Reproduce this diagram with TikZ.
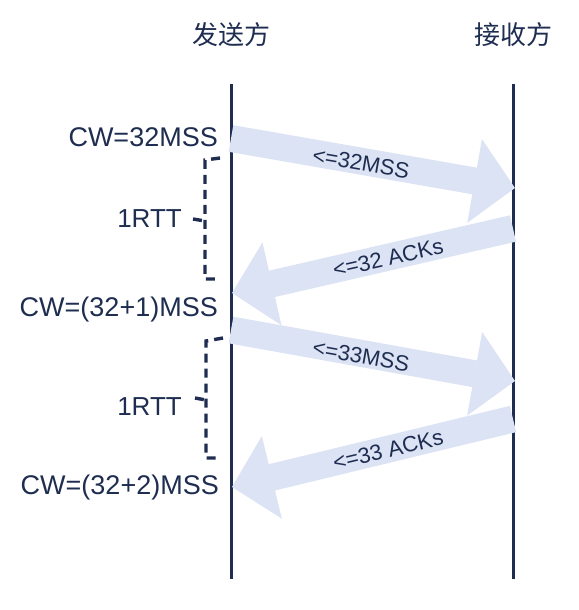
\documentclass[tikz,border=0pt]{standalone}
\usepackage{fontspec}
\setmainfont{Liberation Sans}
\newfontfamily\cjk{Noto Sans CJK SC}
\usetikzlibrary{calc}
\definecolor{navy}{HTML}{1E2D50}
\definecolor{arrowfill}{HTML}{DCE3F5}
\tikzset{
  lifeline/.style={draw=navy, line width=3pt},
  titlelabel/.style={text=navy, font=\cjk\fontsize{26}{30}\selectfont, inner sep=0pt},
  cwlabel/.style={text=navy, font=\fontsize{27}{32}\selectfont, anchor=east, inner sep=0pt},
  rttlabel/.style={text=navy, font=\fontsize{26}{31}\selectfont, anchor=east, inner sep=0pt},
  msglabel/.style={text=navy, font=\fontsize{22}{26}\selectfont, inner sep=0pt},
  bracket/.style={draw=navy, line width=3.4pt, dash pattern=on 9pt off 6pt},
  fatarrow/.style={fill=arrowfill, draw=none, to path={
    ($(\tikztostart)!13.5pt!-90:(\tikztotarget)$)
    -- ($(\tikztotarget)!41pt!(\tikztostart)!13.5pt!90:(\tikztostart)$)
    -- ($(\tikztotarget)!41pt!(\tikztostart)!42.5pt!90:(\tikztostart)$)
    -- (\tikztotarget)
    -- ($(\tikztotarget)!41pt!(\tikztostart)!42.5pt!-90:(\tikztostart)$)
    -- ($(\tikztotarget)!41pt!(\tikztostart)!13.5pt!-90:(\tikztostart)$)
    -- ($(\tikztostart)!13.5pt!90:(\tikztotarget)$) -- cycle}}
}
\begin{document}
\begin{tikzpicture}[x=1pt,y=-1pt]
\useasboundingbox[fill=white] (0,0) rectangle (578,610);
% titles
\node[titlelabel] (snd) at (231,35) {发送方};
\node[titlelabel] (rcv) at (513,35) {接收方};
% lifeline end points
\coordinate (ltop) at (231,84);
\coordinate (lbot) at (231,579);
\coordinate (rtop) at (513,84);
\coordinate (rbot) at (513,579);
% message points
\coordinate (s1) at (231,138.5);
\coordinate (r1) at (515,188);
\coordinate (r2) at (513,228.5);
\coordinate (s2) at (232,293);
\coordinate (s3) at (231,330);
\coordinate (r3) at (515,381);
\coordinate (r4) at (513,419);
\coordinate (s4) at (232,487);
% lifelines
\draw[lifeline] (ltop) -- (lbot);
\draw[lifeline] (rtop) -- (rbot);
% fat arrows
\path[fatarrow] (s1) to (r1);
\path[fatarrow] (r2) to (s2);
\path[fatarrow] (s3) to (r3);
\path[fatarrow] (r4) to (s4);
% arrow labels
\node[msglabel, rotate=-9.9] (m1) at (361,163) {<=32MSS};
\node[msglabel, rotate=12.7] (m2) at (388,258) {<=32 ACKs};
\node[msglabel, rotate=-10.2] (m3) at (361,356) {<=33MSS};
\node[msglabel, rotate=13.5] (m4) at (388,450) {<=33 ACKs};
% window labels
\node[cwlabel] (cw1) at (218,137) {CW=32MSS};
\node[cwlabel] (cw2) at (218,309.5) {CW=(32+1)MSS};
\node[cwlabel] (cw3) at (219,488) {CW=(32+2)MSS};
\node[rttlabel] (rtt1) at (182,219) {1RTT};
\node[rttlabel] (rtt2) at (182,407) {1RTT};
% brackets
\draw[bracket] (220,158) -- (205,160) -- (205,279) -- (219,279);
\draw[bracket] (193,219) -- (205,221);
\draw[bracket] (223,338) -- (206,341) -- (206,458) -- (221,458);
\draw[bracket] (195,398) -- (206,400);
\end{tikzpicture}
\end{document}
